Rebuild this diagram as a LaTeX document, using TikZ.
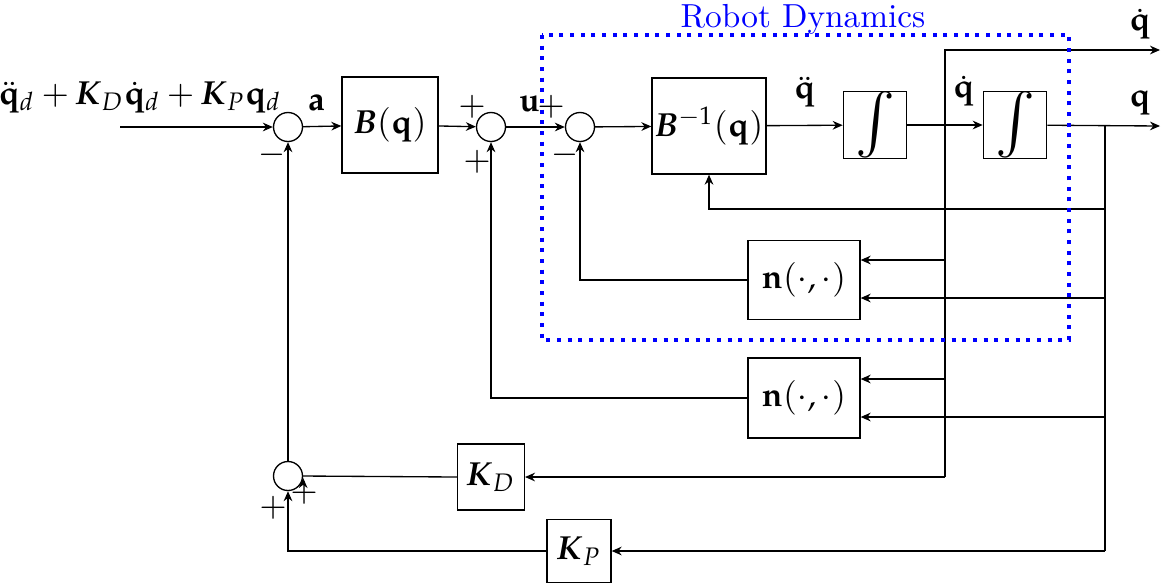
\documentclass[tikz,border=0pt]{standalone}
\usepackage{amsmath,amssymb}
\usepackage{mathpazo}
\usepackage{tikz}
\usetikzlibrary{arrows.meta,calc}
\definecolor{dynbox}{RGB}{0,0,255}
\tikzset{block/.style={draw,minimum width=28.8pt,minimum height=28.8pt,inner sep=0pt},
 sumnode/.style={draw,circle,minimum size=8.7pt,inner sep=0pt},
 sig/.style={-{Stealth[length=3pt,width=2.6pt]}},
 sign/.style={inner sep=0pt}}

\begin{document}
\begin{tikzpicture}[x=0.3pt,y=-0.3pt]
\useasboundingbox (0,0) rectangle (1168,583);
% forward path
\coordinate (in) at (120,127);
\node[sumnode] (s1) at (288,127) {};
\node[block] (B) at (390,125) {$\boldsymbol{B}(\mathbf{q})$};
\node[sumnode] (s2) at (491,127) {};
\node[sumnode] (s3) at (580,127) {};
\node[block,minimum width=34.2pt] (Binv) at (709,126) {$\boldsymbol{B}^{-1}(\mathbf{q})$};
\node[block,minimum width=19pt,minimum height=19.2pt] (int1) at (875,125) {\LARGE$\int$};
\node[block,minimum width=19pt,minimum height=19.2pt] (int2) at (1015,125) {\LARGE$\int$};
\coordinate (qout) at (1160,126);
\coordinate (qdout) at (1160,50);
\coordinate (qd) at (945,126);
\coordinate (qb) at (1105,126);
\coordinate (fbB) at (1105,209);
% feedback blocks
\node[block,minimum width=33.6pt,minimum height=23.7pt] (n1) at (804,280) {$\mathbf{n}(\cdot,\cdot)$};
\node[block,minimum width=33.6pt,minimum height=24pt] (n2) at (804,398) {$\mathbf{n}(\cdot,\cdot)$};
\node[block,minimum width=20pt,minimum height=19.8pt] (KD) at (491,477) {$\boldsymbol{K}_D$};
\node[block,minimum width=19.2pt,minimum height=19pt] (KP) at (579,551) {$\boldsymbol{K}_P$};
\node[sumnode] (s4) at (288,476) {};

\draw[sig] (in) -- (s1);
\node at (140,97) {$\ddot{\mathbf{q}}_d+\boldsymbol{K}_D\dot{\mathbf{q}}_d+\boldsymbol{K}_P\mathbf{q}_d$};
\draw[sig] (s1) -- (B) node[pos=.35,above=1pt] {$\mathbf{a}$};
\draw[sig] (B) -- (s2);
\draw[sig] (s2) -- (s3) node[pos=.4,above=1pt] {$\mathbf{u}$};
\draw[sig] (s3) -- (Binv);
\draw[sig] (Binv) -- (int1) node[midway,above=2pt] {$\ddot{\mathbf{q}}$};
\draw[sig] (int1) -- (int2) node[pos=.75,above=2pt] {$\dot{\mathbf{q}}$};
\draw[sig] (int2) -- (qout);
\draw[sig] (qd) |- (qdout);
\node at (1140,103) {$\mathbf{q}$};
\node at (1140,24) {$\dot{\mathbf{q}}$};
\draw[sig] (fbB) -| (Binv.south);
\draw (qb) -- (qb |- KP);
\draw (qd) -- (qd |- KD);
\draw[sig] (qd |- KD) -- (KD);
\draw[sig] (qb |- KP) -- (KP);
\draw[sig] ([yshift=6pt]n1.east -| qd) -- ([yshift=6pt]n1.east);
\draw[sig] ([yshift=-5.4pt]n1.east -| qb) -- ([yshift=-5.4pt]n1.east);
\draw[sig] ([yshift=5.7pt]n2.east -| qd) -- ([yshift=5.7pt]n2.east);
\draw[sig] ([yshift=-5.7pt]n2.east -| qb) -- ([yshift=-5.7pt]n2.east);
\draw[sig] (n1.west) -| (s3.south);
\draw[sig] (n2.west) -| (s2.south);
\draw (KD.west) -- (s4.east);
\draw[sig] ([yshift=-2.4pt]s4.east) -- ([yshift=-0.6pt]s4.east);
\draw[sig] (KP.west) -| (s4.south);
\draw[sig] (s4.north) -- (s1.south);
% signs
\node[sign] at (272,155) {$-$};
\node[sign] at (472,107) {$+$};
\node[sign] at (477,162) {$+$};
\node[sign] at (551,107) {$+$};
\node[sign] at (565,155) {$-$};
\node[sign] at (304,493) {$+$};
\node[sign] at (273,508) {$+$};
% robot dynamics
\draw[dynbox,dotted,line width=1.2pt] (542,35) rectangle (1069,340);
\node[dynbox] at (803,19) {Robot Dynamics};
\end{tikzpicture}
\end{document}
